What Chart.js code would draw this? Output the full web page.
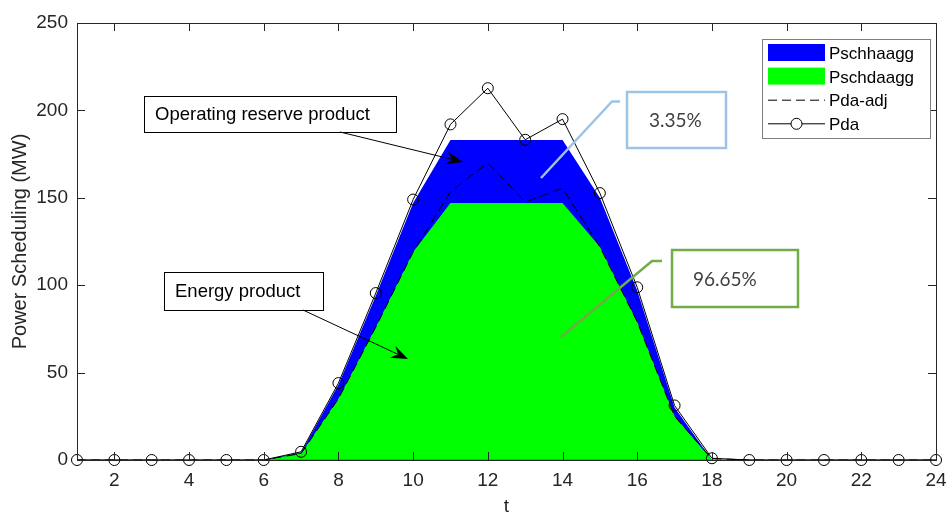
<!DOCTYPE html>
<html lang="en">
<head>
<meta charset="UTF-8">
<title>Power Scheduling</title>
<script src="https://cdn.jsdelivr.net/npm/chart.js"></script>
<style>
  body { margin: 0; background: #fff; }
  canvas { display: block; }
</style>
</head>
<body>
<canvas id="mychart" width="946" height="514"></canvas>
<script>
// hourly schedule, t = 1..24
var hours = [1, 2, 3, 4, 5, 6, 7, 8, 9, 10, 11, 12, 13, 14, 15, 16, 17, 18, 19, 20, 21, 22, 23, 24];
var pda = [0, 0, 0, 0, 0, 0, 4.7, 44, 95.5, 149, 192, 212.7, 183.2, 195, 152.7, 98.8, 31.2, 1, 0, 0, 0, 0, 0, 0];
var pdaAdj = [0, 0, 0, 0, 0, 0, 3.7, 35, 76, 119, 153.5, 170, 147.5, 155.5, 122, 79, 25, 0.8, 0, 0, 0, 0, 0, 0];
var pschDA = [0, 0, 0, 0, 0, 0, 3.7, 35, 76, 119, 147, 147, 147, 147, 122, 79, 25, 0, 0, 0, 0, 0, 0, 0];
var pschHA = [0, 0, 0, 0, 0, 0, 4.3, 43, 94, 147, 183, 183, 183, 183, 150, 97, 30, 0, 0, 0, 0, 0, 0, 0];
var baseline = [0, 0, 0, 0, 0, 0, 0, 0, 0, 0, 0, 0, 0, 0, 0, 0, 0, 0, 0, 0, 0, 0, 0, 0];
var xTicks = [2, 4, 6, 8, 10, 12, 14, 16, 18, 20, 22, 24];
var yTicks = [0, 50, 100, 150, 200, 250];
var shares = ['3.35%', '96.65%'];

function pts(arr) {
    return hours.map(function (t, i) { return { x: t, y: arr[i] }; });
}

var axisFont = { family: "'Liberation Sans', Arial, sans-serif", size: 19 };

// MATLAB style box with inward ticks
var frame = {
    id: 'frame',
    afterDatasetsDraw: function (chart) {
        var ctx = chart.ctx, a = chart.chartArea, x = chart.scales.x, y = chart.scales.y;
        ctx.save();
        ctx.strokeStyle = '#262626';
        ctx.lineWidth = 1;
        ctx.beginPath();
        xTicks.forEach(function (v) {
            var px = Math.round(x.getPixelForValue(v)) + 0.5;
            ctx.moveTo(px, a.bottom); ctx.lineTo(px, a.bottom - 8);
            ctx.moveTo(px, a.top); ctx.lineTo(px, a.top + 8);
        });
        yTicks.forEach(function (v) {
            var py = Math.round(y.getPixelForValue(v)) + 0.5;
            ctx.moveTo(a.left, py); ctx.lineTo(a.left + 8, py);
            ctx.moveTo(a.right, py); ctx.lineTo(a.right - 8, py);
        });
        ctx.stroke();
        ctx.strokeRect(a.left + 0.5, a.top + 0.5, a.right - a.left, a.bottom - a.top);
        ctx.restore();
    }
};

function arrow(ctx, x0, y0, x1, y1) {
    var ang = Math.atan2(y1 - y0, x1 - x0);
    var len = 17, half = 6.5, notch = 11;
    var c = Math.cos(ang), s = Math.sin(ang);
    ctx.beginPath();
    ctx.moveTo(x0, y0);
    ctx.lineTo(x1 - c * notch, y1 - s * notch);
    ctx.stroke();
    ctx.beginPath();
    ctx.moveTo(x1, y1);
    ctx.lineTo(x1 - c * len - s * half, y1 - s * len + c * half);
    ctx.lineTo(x1 - c * notch, y1 - s * notch);
    ctx.lineTo(x1 - c * len + s * half, y1 - s * len - c * half);
    ctx.closePath();
    ctx.fill();
}

// text boxes, callouts and legend
var notes = {
    id: 'notes',
    afterDraw: function (chart) {
        var ctx = chart.ctx;
        ctx.save();
        ctx.textBaseline = 'middle';

        // product labels
        ctx.font = "18.5px 'Liberation Sans', Arial, sans-serif";
        ctx.strokeStyle = '#000';
        ctx.fillStyle = '#000';
        ctx.lineWidth = 1;
        [
            { box: [144, 96, 252, 36], text: 'Operating reserve product', from: [340, 132], to: [463, 162] },
            { box: [164, 272, 159, 38], text: 'Energy product', from: [303, 310], to: [408, 359] }
        ].forEach(function (n) {
            ctx.fillStyle = '#fff';
            ctx.fillRect(n.box[0], n.box[1], n.box[2], n.box[3]);
            ctx.strokeRect(n.box[0] + 0.5, n.box[1] + 0.5, n.box[2], n.box[3]);
            ctx.fillStyle = '#000';
            ctx.textAlign = 'left';
            ctx.fillText(n.text, n.box[0] + 11, n.box[1] + n.box[3] / 2 + 1);
            arrow(ctx, n.from[0], n.from[1], n.to[0], n.to[1]);
        });

        // share callouts
        ctx.font = "19px Lato, 'Open Sans', sans-serif";
        ctx.lineWidth = 2.5;
        [
            { box: [627, 92, 99, 56], text: shares[0], tx: 649, color: '#9dc3e6', line: [[541, 178], [612, 101.5], [620, 101.5]] },
            { box: [672, 250, 126, 57], text: shares[1], tx: 693, color: '#70ad47', line: [[561, 337], [652, 261], [662, 261]] }
        ].forEach(function (n) {
            ctx.strokeStyle = n.color;
            ctx.beginPath();
            ctx.moveTo(n.line[0][0], n.line[0][1]);
            ctx.lineTo(n.line[1][0], n.line[1][1]);
            ctx.lineTo(n.line[2][0], n.line[2][1]);
            ctx.stroke();
            ctx.fillStyle = '#fff';
            ctx.fillRect(n.box[0], n.box[1], n.box[2], n.box[3]);
            ctx.strokeRect(n.box[0], n.box[1], n.box[2], n.box[3]);
            ctx.fillStyle = '#404040';
            ctx.textAlign = 'left';
            ctx.fillText(n.text, n.tx, n.box[1] + n.box[3] / 2 + 1);
        });

        // legend
        var lx = 762, ly = 39, lw = 168, lh = 99;
        ctx.fillStyle = '#fff';
        ctx.fillRect(lx, ly, lw, lh);
        ctx.strokeStyle = '#7f7f7f';
        ctx.lineWidth = 1;
        ctx.strokeRect(lx + 0.5, ly + 0.5, lw, lh);
        ctx.font = "17px 'Liberation Sans', Arial, sans-serif";
        chart.data.datasets.forEach(function (ds, i) {
            if (!ds.label) return;
            var cy = 52.5 + i * 23.6;
            if (ds.fill) {
                ctx.fillStyle = ds.backgroundColor;
                ctx.fillRect(768, cy - 8.5, 57, 17);
            } else {
                ctx.strokeStyle = ds.borderColor;
                ctx.lineWidth = 1;
                ctx.setLineDash(ds.borderDash || []);
                ctx.beginPath();
                ctx.moveTo(768, cy + 0.5);
                ctx.lineTo(825, cy + 0.5);
                ctx.stroke();
                ctx.setLineDash([]);
                if (ds.pointRadius) {
                    ctx.fillStyle = '#fff';
                    ctx.beginPath();
                    ctx.arc(796.5, cy + 0.5, ds.pointRadius, 0, Math.PI * 2);
                    ctx.fill();
                    ctx.stroke();
                }
            }
            ctx.fillStyle = '#000';
            ctx.textAlign = 'left';
            ctx.fillText(ds.label, 829, cy + 2);
        });
        ctx.restore();
    }
};

var mychart = new Chart(document.getElementById('mychart'), {
    type: 'line',
    data: {
        datasets: [
            {
                label: 'Pschhaagg', data: pts(pschHA), order: 5,
                fill: 'origin', backgroundColor: '#0000ff', borderColor: '#0000ff',
                borderWidth: 0, pointRadius: 0, tension: 0
            },
            {
                label: 'Pschdaagg', data: pts(pschDA), order: 4,
                fill: 'origin', backgroundColor: '#00ff00', borderColor: '#00ff00',
                borderWidth: 0, pointRadius: 0, tension: 0
            },
            {
                label: 'Pda-adj', data: pts(pdaAdj), order: 2,
                fill: false, borderColor: '#000', borderWidth: 1, borderDash: [9, 5],
                pointRadius: 0, tension: 0
            },
            {
                label: 'Pda', data: pts(pda), order: 1,
                fill: false, borderColor: '#000', borderWidth: 1,
                pointRadius: 5.5, pointBorderColor: '#000', pointBorderWidth: 1,
                pointBackgroundColor: 'rgba(0,0,0,0)', tension: 0, clip: false
            },
            {
                label: '', data: pts(baseline), order: 3,
                fill: false, borderColor: '#d93030', borderWidth: 1,
                pointRadius: 0, tension: 0, clip: false
            }
        ]
    },
    options: {
        responsive: false,
        animation: false,
        devicePixelRatio: 1,
        layout: { padding: { top: 23, right: 10, left: 0, bottom: 0 } },
        plugins: {
            legend: { display: false },
            tooltip: { enabled: false }
        },
        scales: {
            x: {
                type: 'linear', min: 1, max: 24,
                grid: { display: false, drawTicks: false },
                border: { display: false },
                afterBuildTicks: function (scale) {
                    scale.ticks = xTicks.map(function (v) { return { value: v }; });
                },
                afterFit: function (scale) {
                    scale.height = 54;
                    scale.paddingLeft = 0;
                    scale.paddingRight = 0;
                },
                ticks: { autoSkip: false, maxRotation: 0, padding: 9, color: '#262626', font: axisFont },
                title: {
                    display: true, text: 't', color: '#262626',
                    font: { family: axisFont.family, size: 19, lineHeight: 0.8 },
                    padding: { top: 0, bottom: 0 }
                }
            },
            y: {
                min: 0, max: 250,
                grid: { display: false, drawTicks: false },
                border: { display: false },
                afterBuildTicks: function (scale) {
                    scale.ticks = yTicks.map(function (v) { return { value: v }; });
                },
                afterFit: function (scale) {
                    scale.width = 77;
                    scale.paddingTop = 0;
                    scale.paddingBottom = 0;
                },
                ticks: { padding: 9, color: '#262626', font: axisFont },
                title: {
                    display: true, text: 'Power Scheduling (MW)', color: '#262626',
                    font: { family: axisFont.family, size: 20 },
                    padding: { top: 8, bottom: 0 }
                }
            }
        }
    },
    plugins: [frame, notes]
});
</script>
</body>
</html>
